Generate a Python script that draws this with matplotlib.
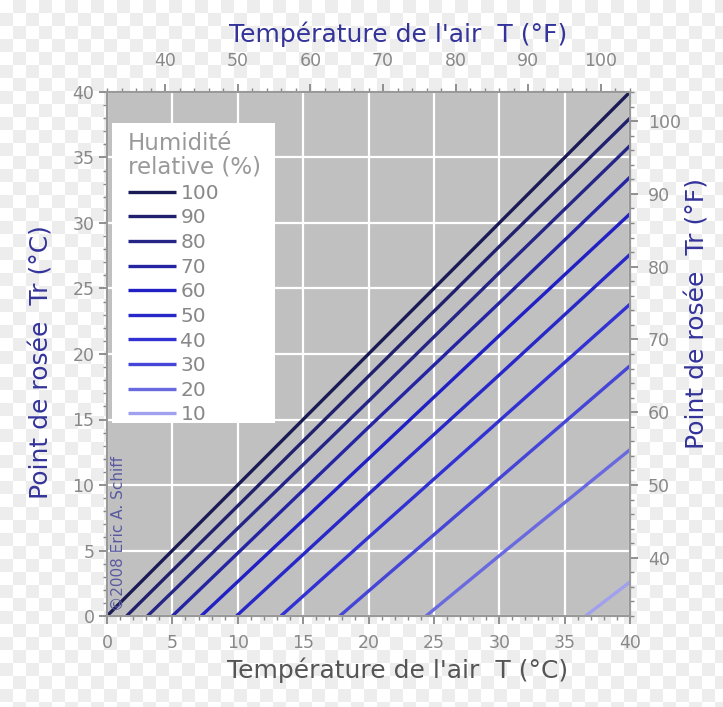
import numpy as np
import matplotlib
matplotlib.use("Agg")
import matplotlib.pyplot as plt
from matplotlib.ticker import MultipleLocator
from matplotlib.patches import Rectangle

# ---- data ----
humidity = [100, 90, 80, 70, 60, 50, 40, 30, 20, 10]
# air temperature points (°C) and dew point (°C) per humidity curve
temp_pts = {
    100: [0, 20, 30, 40],
    90: [1.5, 20, 30, 40],
    80: [3.1, 20, 30, 40],
    70: [5.0, 20, 30, 40],
    60: [7.2, 20, 30, 40],
    50: [9.9, 20, 30, 40],
    40: [13.3, 20, 30, 40],
    30: [17.8, 20, 30, 40],
    20: [24.4, 30, 40],
    10: [36.6, 40],
}
dew_pts = {
    100: [0, 20, 30, 40],
    90: [0, 18.3, 28.2, 38.0],
    80: [0, 16.4, 26.2, 35.9],
    70: [0, 14.4, 23.9, 33.5],
    60: [0, 12.0, 21.4, 30.7],
    50: [0, 9.3, 18.4, 27.6],
    40: [0, 6.0, 14.9, 23.8],
    30: [0, 1.9, 10.5, 19.1],
    20: [0, 4.6, 12.7],
    10: [0, 2.6],
}
colors = {
    100: "#1a1a55", 90: "#20206e", 80: "#252588", 70: "#2525a4",
    60: "#2020c4", 50: "#2828c8", 40: "#3232d4", 30: "#4545d8",
    20: "#6a6ae0", 10: "#a0a0ee",
}

c_to_f = lambda c: c * 1.8 + 32
f_to_c = lambda f: (f - 32) / 1.8

W, H = 723, 707
fig = plt.figure(figsize=(W / 100, H / 100), dpi=100)

# checkerboard background (transparency look of the reference)
sq = 13
yy, xx = np.mgrid[0:H, 0:W]
board = ((xx // sq + yy // sq) % 2).astype(float)
img = np.where(board[..., None] > 0, np.array([0.93, 0.93, 0.93]), np.array([1.0, 1.0, 1.0]))
fig.figimage(img, 0, 0, zorder=-10)

ax = fig.add_axes([107 / W, 1 - 616 / H, (630 - 107) / W, (616 - 92) / H])
ax.set_facecolor("#c0c0c0")
ax.set_xlim(0, 40)
ax.set_ylim(0, 40)

ax.xaxis.set_major_locator(MultipleLocator(5))
ax.xaxis.set_minor_locator(MultipleLocator(1))
ax.yaxis.set_major_locator(MultipleLocator(5))
ax.yaxis.set_minor_locator(MultipleLocator(1))
ax.grid(True, which="major", color="white", linewidth=1.6)
ax.set_axisbelow(True)

tick_col = "#888888"
lab_size = 12.5
for s in ax.spines.values():
    s.set_color("#999999")
    s.set_linewidth(1.5)
ax.tick_params(which="major", direction="out", length=6, width=1.3, color=tick_col,
               labelcolor=tick_col, labelsize=lab_size, pad=3)
ax.tick_params(axis="x", which="major", pad=7)
ax.tick_params(which="minor", direction="out", length=3, width=1, color=tick_col)

for rh in humidity:
    ax.plot(temp_pts[rh], dew_pts[rh], color=colors[rh], linewidth=2.4,
            label=str(rh), solid_capstyle="butt", clip_on=True)

ax.set_xlabel("Température de l'air  T (°C)", fontsize=18, color="#555555")
ax.xaxis.set_label_coords(0.556, -0.079)
ax.set_ylabel("Point de rosée  Tr (°C)", fontsize=18, color="#33339a")
ax.yaxis.set_label_coords(-0.102, 0.485)

secx = ax.secondary_xaxis("top", functions=(c_to_f, f_to_c))
secx.xaxis.set_major_locator(MultipleLocator(10))
secx.xaxis.set_minor_locator(MultipleLocator(2))
secx.tick_params(which="major", direction="out", length=6, width=1.3, color=tick_col,
                 labelcolor=tick_col, labelsize=lab_size, pad=10)
secx.tick_params(which="minor", direction="out", length=3, width=1, color=tick_col)
secx.set_xlabel("Température de l'air  T (°F)", fontsize=18, color="#33339a", labelpad=7)
secx.xaxis.label.set_x(0.556)
secx.spines["top"].set_color("#999999")

secy = ax.secondary_yaxis("right", functions=(c_to_f, f_to_c))
secy.yaxis.set_major_locator(MultipleLocator(10))
secy.yaxis.set_minor_locator(MultipleLocator(2))
secy.tick_params(which="major", direction="out", length=6, width=1.3, color=tick_col,
                 labelcolor=tick_col, labelsize=lab_size, pad=7)
secy.tick_params(which="minor", direction="out", length=3, width=1, color=tick_col)
secy.set_ylabel("Point de rosée  Tr (°F)", fontsize=18, color="#33339a", labelpad=3)
secy.yaxis.label.set_y(0.578)
secy.spines["right"].set_color("#999999")

for a in (ax.xaxis, ax.yaxis, secx.xaxis, secx.yaxis, secy.xaxis, secy.yaxis):
    a.offsetText.set_visible(False)

# white legend panel
ax.add_patch(Rectangle((5 / 523, 193 / 524), 163 / 523, 300 / 524, transform=ax.transAxes,
                       facecolor="white", edgecolor="none", zorder=4.5))

leg = ax.legend(title="Humidité\nrelative (%)", loc="upper left",
                bbox_to_anchor=(12 / 523, 1 - 31 / 524), fontsize=14.5,
                title_fontsize=16.5, frameon=False,
                handlelength=2.4, handletextpad=0.2, labelspacing=0.28,
                borderpad=0.45, borderaxespad=0)
leg.set_zorder(5)
leg._legend_box.align = "left"
leg.get_title().set_color("#999999")
leg.get_title().set_linespacing(1.0)
for t in leg.get_texts():
    t.set_color("#888888")

ax.text(0.008, 0.01, "©2008 Eric A. Schiff", transform=ax.transAxes, rotation=90,
        fontsize=11, color="#5a5aa0", ha="left", va="bottom")

fig.savefig("out.png", dpi=100)
